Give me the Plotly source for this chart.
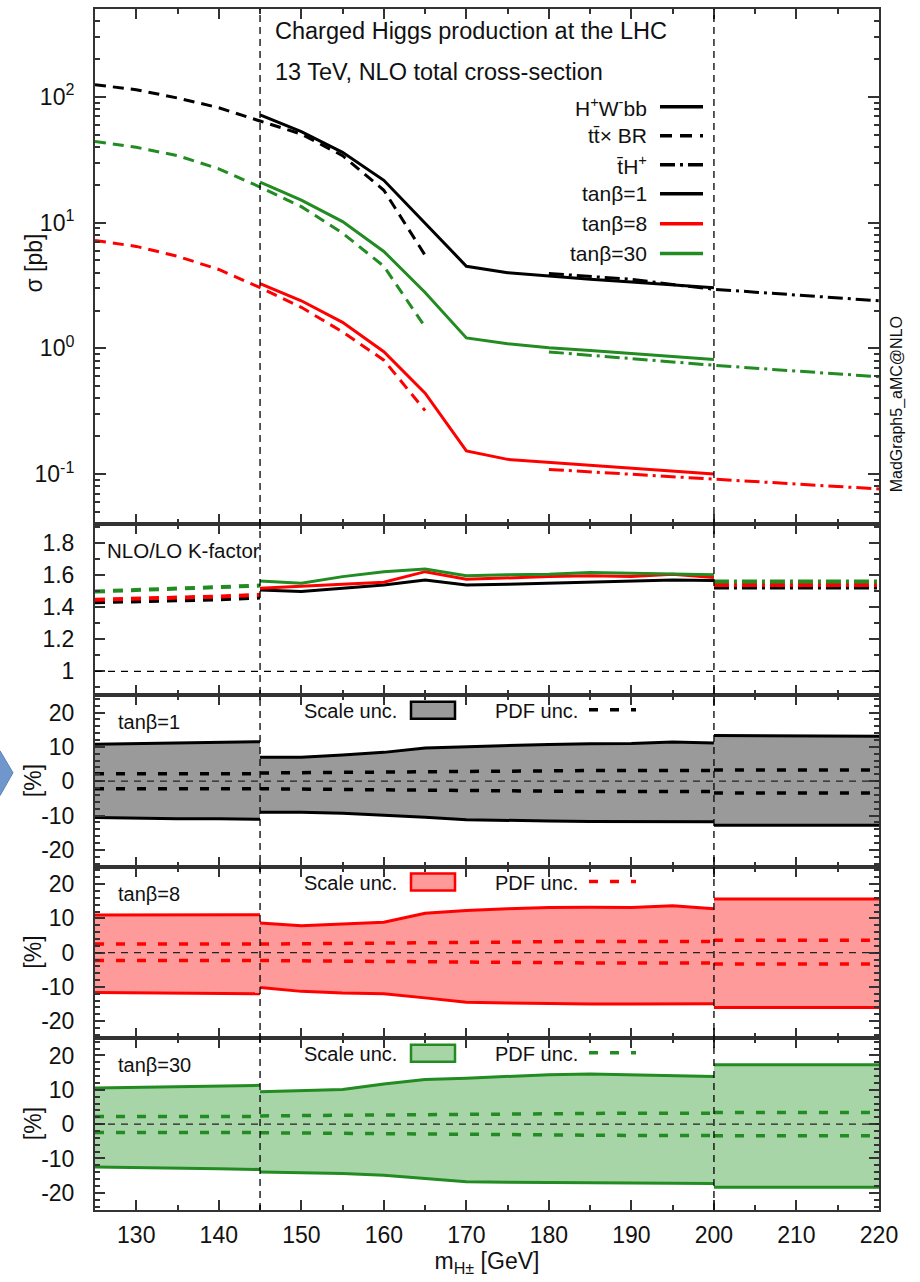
import math
import plotly.graph_objects as go

# ---------------- data ----------------
m_tt = [125, 130, 135, 140, 145, 150, 155, 160, 165]
m_hwbb = [145, 150, 155, 160, 165, 170, 175, 180, 185, 190, 195, 200]
m_th = [180, 185, 190, 195, 200, 205, 210, 215, 220]

ttbr_tb1 = [125, 114, 98, 82, 64.3, 50.6, 34.1, 18.1, 5.5]
ttbr_tb8 = [7.2, 6.47, 5.4, 4.24, 3.04, 2.12, 1.35, 0.806, 0.32]
ttbr_tb30 = [44.2, 39.7, 34.1, 26.8, 19.2, 13.4, 8.25, 4.5, 1.48]

hwbb_tb1 = [71.8, 53, 36.2, 21.7, 9.9, 4.5, 4.0, 3.76, 3.54, 3.37, 3.19, 3.04]
hwbb_tb8 = [3.27, 2.39, 1.61, 0.94, 0.44, 0.153, 0.131, 0.124, 0.117, 0.112, 0.106, 0.1]
hwbb_tb30 = [21, 15.1, 10.2, 5.9, 2.78, 1.21, 1.09, 1.01, 0.96, 0.91, 0.86, 0.815]

th_tb1 = [3.94, 3.72, 3.54, 3.22, 2.95, 2.8, 2.65, 2.52, 2.39]
th_tb8 = [0.109, 0.104, 0.1, 0.0955, 0.0914, 0.0873, 0.0834, 0.0797, 0.0762]
th_tb30 = [0.937, 0.88, 0.83, 0.78, 0.734, 0.695, 0.659, 0.627, 0.595]

# K-factor
m_lo = [125, 130, 135, 140, 145]
m_mid = m_hwbb
m_hi = [200, 205, 210, 215, 220]

k_lo_tb1 = [1.432, 1.437, 1.443, 1.45, 1.461]
k_lo_tb8 = [1.447, 1.452, 1.46, 1.468, 1.478]
k_lo_tb30 = [1.499, 1.507, 1.515, 1.525, 1.536]
k_mid_tb1 = [1.509, 1.499, 1.519, 1.54, 1.571, 1.54, 1.544, 1.551, 1.557, 1.561, 1.571, 1.568]
k_mid_tb8 = [1.519, 1.53, 1.544, 1.557, 1.623, 1.576, 1.586, 1.592, 1.598, 1.592, 1.607, 1.586]
k_mid_tb30 = [1.565, 1.551, 1.592, 1.623, 1.64, 1.597, 1.603, 1.607, 1.617, 1.613, 1.607, 1.603]
k_hi_tb1 = [1.524, 1.524, 1.524, 1.524, 1.524]
k_hi_tb8 = [1.54, 1.54, 1.54, 1.54, 1.54]
k_hi_tb30 = [1.561, 1.561, 1.561, 1.561, 1.561]

# scale / PDF uncertainties [%]
scale_up_tb1 = {"lo": [10.8, 11.0, 11.1, 11.3, 11.5],
                "mid": [7.0, 7.0, 7.6, 8.4, 9.7, 10.1, 10.4, 10.7, 10.9, 11.0, 11.4, 11.1],
                "hi": [13.3, 13.3, 13.2, 13.2, 13.1]}
scale_dn_tb1 = {"lo": [-10.6, -10.8, -10.9, -10.9, -11.1],
                "mid": [-9.0, -9.0, -9.3, -9.8, -10.5, -11.2, -11.5, -11.6, -11.7, -11.8, -11.8, -11.8],
                "hi": [-12.8, -12.8, -12.8, -12.8, -12.8]}
pdf_up_tb1 = {"lo": [2.2, 2.2, 2.2, 2.2, 2.2],
              "mid": [2.4, 2.5, 2.6, 2.7, 2.9, 3.0, 3.0, 3.0, 3.1, 3.1, 3.1, 3.1],
              "hi": [3.3, 3.3, 3.3, 3.3, 3.3]}
pdf_dn_tb1 = {"lo": [-2.2, -2.2, -2.2, -2.2, -2.2],
              "mid": [-2.2, -2.3, -2.4, -2.5, -2.7, -2.9, -2.9, -3.0, -3.0, -3.0, -3.0, -3.0],
              "hi": [-3.4, -3.4, -3.4, -3.4, -3.4]}

scale_up_tb8 = {"lo": [11.0, 11.0, 11.0, 11.1, 11.1],
                "mid": [8.7, 7.9, 8.4, 8.9, 11.5, 12.3, 12.8, 13.2, 13.3, 13.2, 13.7, 12.8],
                "hi": [15.7, 15.7, 15.7, 15.7, 15.7]}
scale_dn_tb8 = {"lo": [-11.6, -11.7, -11.8, -11.9, -12.0],
                "mid": [-10.2, -11.3, -11.8, -12.0, -13.2, -14.5, -14.7, -14.9, -15.0, -15.0, -15.0, -14.9],
                "hi": [-16.0, -16.0, -16.0, -16.0, -16.0]}
pdf_up_tb8 = {"lo": [2.5, 2.5, 2.5, 2.5, 2.5],
              "mid": [2.5, 2.6, 2.7, 2.9, 3.1, 3.2, 3.3, 3.3, 3.3, 3.3, 3.3, 3.3],
              "hi": [3.6, 3.6, 3.6, 3.6, 3.6]}
pdf_dn_tb8 = {"lo": [-2.3, -2.3, -2.3, -2.3, -2.3],
              "mid": [-2.3, -2.4, -2.5, -2.6, -2.7, -2.9, -3.0, -3.0, -3.0, -3.0, -3.0, -3.0],
              "hi": [-3.3, -3.3, -3.3, -3.3, -3.3]}

scale_up_tb30 = {"lo": [10.5, 10.7, 10.9, 11.1, 11.3],
                 "mid": [9.4, 9.8, 10.1, 11.7, 13.0, 13.4, 14.0, 14.4, 14.6, 14.4, 14.2, 13.9],
                 "hi": [17.3, 17.3, 17.3, 17.3, 17.3]}
scale_dn_tb30 = {"lo": [-12.5, -12.6, -12.8, -13.0, -13.2],
                 "mid": [-13.9, -14.1, -14.4, -14.9, -15.9, -16.8, -16.9, -17.0, -17.1, -17.1, -17.2, -17.3],
                 "hi": [-18.4, -18.4, -18.4, -18.4, -18.4]}
pdf_up_tb30 = {"lo": [2.2, 2.2, 2.2, 2.2, 2.2],
               "mid": [2.4, 2.5, 2.6, 2.7, 2.8, 3.0, 3.1, 3.2, 3.2, 3.2, 3.2, 3.2],
               "hi": [3.4, 3.4, 3.4, 3.4, 3.4]}
pdf_dn_tb30 = {"lo": [-2.4, -2.4, -2.4, -2.4, -2.4],
               "mid": [-2.5, -2.6, -2.7, -2.8, -2.9, -3.1, -3.2, -3.3, -3.3, -3.3, -3.3, -3.3],
               "hi": [-3.4, -3.4, -3.4, -3.4, -3.4]}

x_ticks = [130, 140, 150, 160, 170, 180, 190, 200, 210, 220]
log_ticks = [0.1, 1, 10, 100]
log_ticktext = ["10<sup>-1</sup>", "10<sup>0</sup>", "10<sup>1</sup>", "10<sup>2</sup>"]
k_ticks = [1, 1.2, 1.4, 1.6, 1.8]
k_ticktext = ["1", "1.2", "1.4", "1.6", "1.8"]
unc_ticks = [-20, -10, 0, 10, 20]
unc_ticktext = ["-20", "-10", "0", "10", "20"]

# ---------------- styling ----------------
BLACK = "#000000"
RED = "#ff0000"
GREEN = "#228b22"
FILL = {"tb1": "#9a9a9a", "tb8": "#ff9a9a", "tb30": "#a8d5a8"}
COL = {"tb1": BLACK, "tb8": RED, "tb30": GREEN}
FONT = "Liberation Sans, Arial, Helvetica, sans-serif"
AXC = "#333333"
TXT = "#111111"
DASH = "11px,7px"
DASHDOT = "15px,5px,3px,5px"
PDFDASH = "9px,12px"

W, H = 920, 1282
L, R, T, B = 95, 879, 7, 1210
bounds = [7, 523, 694.5, 866.5, 1038, 1210]


def px(x):
    return (x - L) / (R - L)


def py(y):
    return (B - y) / (B - T)


fig = go.Figure()

# main panel
for m, ys, c, d in [
    (m_tt, ttbr_tb1, BLACK, DASH), (m_tt, ttbr_tb8, RED, DASH), (m_tt, ttbr_tb30, GREEN, DASH),
    (m_hwbb, hwbb_tb1, BLACK, "solid"), (m_hwbb, hwbb_tb8, RED, "solid"), (m_hwbb, hwbb_tb30, GREEN, "solid"),
    (m_th, th_tb1, BLACK, DASHDOT), (m_th, th_tb8, RED, DASHDOT), (m_th, th_tb30, GREEN, DASHDOT),
]:
    fig.add_trace(go.Scatter(x=m, y=ys, mode="lines", line=dict(color=c, width=3, dash=d),
                             xaxis="x", yaxis="y", showlegend=False))

# K-factor panel
for m, ys, c, d, w in [
    (m_lo, k_lo_tb1, BLACK, "10px,8px", 4), (m_lo, k_lo_tb8, RED, "10px,8px", 4), (m_lo, k_lo_tb30, GREEN, "10px,8px", 4),
    (m_mid, k_mid_tb1, BLACK, "solid", 3), (m_mid, k_mid_tb8, RED, "solid", 3), (m_mid, k_mid_tb30, GREEN, "solid", 3),
    (m_hi, k_hi_tb1, BLACK, DASHDOT, 4), (m_hi, k_hi_tb8, RED, DASHDOT, 4), (m_hi, k_hi_tb30, GREEN, DASHDOT, 4),
]:
    fig.add_trace(go.Scatter(x=m, y=ys, mode="lines", line=dict(color=c, width=w, dash=d),
                             xaxis="x2", yaxis="y2", showlegend=False))

# uncertainty panels
panels = [
    ("tb1", scale_up_tb1, scale_dn_tb1, pdf_up_tb1, pdf_dn_tb1, "x3", "y3"),
    ("tb8", scale_up_tb8, scale_dn_tb8, pdf_up_tb8, pdf_dn_tb8, "x4", "y4"),
    ("tb30", scale_up_tb30, scale_dn_tb30, pdf_up_tb30, pdf_dn_tb30, "x5", "y5"),
]
mass_seg = {"lo": m_lo, "mid": m_mid, "hi": m_hi}
for key, sup, sdn, pup, pdn, xa, ya in panels:
    c = COL[key]
    for seg in ["lo", "mid", "hi"]:
        m = mass_seg[seg]
        fig.add_trace(go.Scatter(x=m, y=sdn[seg], mode="lines", line=dict(color=c, width=3),
                                 xaxis=xa, yaxis=ya, showlegend=False))
        fig.add_trace(go.Scatter(x=m, y=sup[seg], mode="lines", line=dict(color=c, width=3),
                                 fill="tonexty", fillcolor=FILL[key],
                                 xaxis=xa, yaxis=ya, showlegend=False))
    for seg in ["lo", "mid", "hi"]:
        m = mass_seg[seg]
        for arr in (pup, pdn):
            fig.add_trace(go.Scatter(x=m, y=arr[seg], mode="lines",
                                     line=dict(color=c, width=3.5, dash=PDFDASH),
                                     xaxis=xa, yaxis=ya, showlegend=False))

# ---------------- axes ----------------
tickfont = dict(family=FONT, size=23, color=TXT)
xcommon = dict(range=[125, 220], tickmode="array", tickvals=x_ticks, ticks="inside", ticklen=10,
               tickwidth=1.5, tickcolor=AXC, showline=True, linecolor=AXC, linewidth=2, mirror="ticks",
               showgrid=False, zeroline=False, tickfont=tickfont,
               minor=dict(ticks="inside", ticklen=5, tickwidth=1.5, tickcolor=AXC, dtick=5, tick0=125,
                          showgrid=False))
layout = dict(width=W, height=H, margin=dict(l=L, r=W - R, t=T, b=H - B),
              paper_bgcolor="white", plot_bgcolor="white", showlegend=False,
              font=dict(family=FONT, size=19, color=TXT))

for i in range(5):
    xname = "xaxis" if i == 0 else f"xaxis{i + 1}"
    yid = "y" if i == 0 else f"y{i + 1}"
    xa = dict(xcommon)
    xa["anchor"] = yid
    xa["domain"] = [0, 1]
    if i > 0:
        xa["matches"] = "x"
    xa["showticklabels"] = (i == 4)
    if i == 4:
        xa["ticklabelstandoff"] = 3
        xa["title"] = dict(text="m<sub>H±</sub> [GeV]", font=dict(family=FONT, size=23, color=TXT),
                           standoff=6)
    layout[xname] = xa

doms = [[py(bounds[i + 1]), py(bounds[i])] for i in range(5)]
doms[0][1] = 1.0
doms[4][0] = 0.0

ycommon = dict(ticks="inside", tickwidth=1.5, tickcolor=AXC, showline=True, linecolor=AXC, linewidth=2,
               mirror="ticks", showgrid=False, zeroline=False, tickfont=tickfont, ticklabelstandoff=14)

minor_log = [k * 10 ** e for e in range(-2, 3) for k in range(2, 10)]
minor_log = [v for v in minor_log if 0.04 <= v <= 500]
layout["yaxis"] = dict(ycommon, type="log", range=[math.log10(0.04), math.log10(500)], domain=doms[0],
                       anchor="x", tickmode="array", tickvals=log_ticks, ticktext=log_ticktext, ticklen=11,
                       minor=dict(ticks="inside", ticklen=5, tickwidth=1.5, tickcolor=AXC,
                                  tickmode="array", tickvals=minor_log, showgrid=False))
layout["yaxis2"] = dict(ycommon, range=[0.85, 1.92], domain=doms[1], anchor="x2", tickmode="array",
                        tickvals=k_ticks, ticktext=k_ticktext, ticklen=10,
                        minor=dict(ticks="inside", ticklen=5, tickwidth=1.5, tickcolor=AXC, dtick=0.1,
                                   tick0=0.9, showgrid=False))
for i in range(3):
    layout[f"yaxis{i + 3}"] = dict(ycommon, range=[-25, 25], domain=doms[i + 2], anchor=f"x{i + 3}",
                                   tickmode="array", tickvals=unc_ticks, ticktext=unc_ticktext, ticklen=10,
                                   minor=dict(ticks="inside", ticklen=5, tickwidth=1.5, tickcolor=AXC,
                                              dtick=2, tick0=0, showgrid=False))

fig.update_layout(**layout)

# ---------------- shapes ----------------
shapes = []
for xv in (145, 200):
    shapes.append(dict(type="line", xref="x", yref="paper", x0=xv, x1=xv, y0=0, y1=1,
                       line=dict(color=BLACK, width=1.3, dash="7px,5px"), layer="above"))
shapes.append(dict(type="line", xref="paper", yref="y2", x0=0, x1=1, y0=1, y1=1,
                   line=dict(color=BLACK, width=1.2, dash="7px,6px")))
for ya in ("y3", "y4", "y5"):
    shapes.append(dict(type="line", xref="paper", yref=ya, x0=0, x1=1, y0=0, y1=0,
                       line=dict(color="#222222", width=1.2, dash="7px,6px")))

# main legend samples
leg_rows = [(105, BLACK, "solid"), (134, BLACK, "12px,8px"), (163, BLACK, DASHDOT),
            (192, BLACK, "solid"), (222, RED, "solid"), (252, GREEN, "solid")]
leg_text = ["H<sup>+</sup>W<sup>-</sup>bb", "tt\u0304\u00d7 BR", "t\u0304H<sup>+</sup>",
            "tan\u03b2=1", "tan\u03b2=8", "tan\u03b2=30"]
annotations = []
for (yy, c, d), t in zip(leg_rows, leg_text):
    shapes.append(dict(type="line", xref="paper", yref="paper", x0=px(660), x1=px(703), y0=py(yy), y1=py(yy),
                       line=dict(color=c, width=3.5, dash=d)))
    annotations.append(dict(text=t, xref="paper", yref="paper", x=px(649), y=py(yy), xanchor="right",
                            yanchor="middle", showarrow=False, font=dict(family=FONT, size=21)))

annotations.append(dict(text="Charged Higgs production at the LHC", xref="paper", yref="paper", x=px(273),
                        y=py(29), xanchor="left", yanchor="middle", showarrow=False,
                        font=dict(family=FONT, size=23.5)))
annotations.append(dict(text="13 TeV, NLO total cross-section", xref="paper", yref="paper", x=px(273),
                        y=py(70), xanchor="left", yanchor="middle", showarrow=False,
                        font=dict(family=FONT, size=23.5)))
annotations.append(dict(text="MadGraph5_aMC@NLO", xref="paper", yref="paper", x=px(897), y=py(403),
                        xanchor="center", yanchor="middle", textangle=-90, showarrow=False,
                        font=dict(family=FONT, size=16)))
annotations.append(dict(text="NLO/LO K-factor", xref="paper", yref="paper", x=px(105), y=py(549),
                        xanchor="left", yanchor="middle", showarrow=False, font=dict(family=FONT, size=20.5)))
annotations.append(dict(text="\u03c3 [pb]", xref="paper", yref="paper", x=px(34), y=py(262),
                        xanchor="center", yanchor="middle", textangle=-90, showarrow=False,
                        font=dict(family=FONT, size=23)))

tb_labels = ["tan\u03b2=1", "tan\u03b2=8", "tan\u03b2=30"]
for i, key in enumerate(["tb1", "tb8", "tb30"]):
    off = bounds[i + 2] - bounds[2]
    c = COL[key]
    annotations.append(dict(text=tb_labels[i], xref="paper", yref="paper", x=px(116), y=py(721 + off),
                            xanchor="left", yanchor="middle", showarrow=False, font=dict(family=FONT, size=20)))
    annotations.append(dict(text="[%]", xref="paper", yref="paper", x=px(33),
                            y=py((bounds[i + 2] + bounds[i + 3]) / 2), xanchor="center", yanchor="middle",
                            textangle=-90, showarrow=False, font=dict(family=FONT, size=23)))
    annotations.append(dict(text="Scale unc.", xref="paper", yref="paper", x=px(399), y=py(710 + off),
                            xanchor="right", yanchor="middle", showarrow=False, font=dict(family=FONT, size=20)))
    annotations.append(dict(text="PDF unc.", xref="paper", yref="paper", x=px(493), y=py(710 + off),
                            xanchor="left", yanchor="middle", showarrow=False, font=dict(family=FONT, size=20)))
    shapes.append(dict(type="rect", xref="paper", yref="paper", x0=px(411), x1=px(455),
                       y0=py(718 + off), y1=py(701 + off), fillcolor=FILL[key], line=dict(color=c, width=2.5)))
    shapes.append(dict(type="line", xref="paper", yref="paper", x0=px(589), x1=px(636),
                       y0=py(709 + off), y1=py(709 + off), line=dict(color=c, width=3.5, dash=PDFDASH)))

# decorative chevron at the left edge (slide artefact)
pts = [(-5, 750), (0, 750), (13, 772), (0, 795), (-5, 795)]
path = "M " + " L ".join(f"{px(a)},{py(b)}" for a, b in pts) + " Z"
shapes.append(dict(type="path", xref="paper", yref="paper", path=path, fillcolor="#7097cc",
                   line=dict(color="#5a82b8", width=1)))

fig.update_layout(shapes=shapes, annotations=annotations)
fig.write_html("out.html", config={"displayModeBar": False},
               post_script="document.body.style.margin='0';document.body.style.padding='0';")
